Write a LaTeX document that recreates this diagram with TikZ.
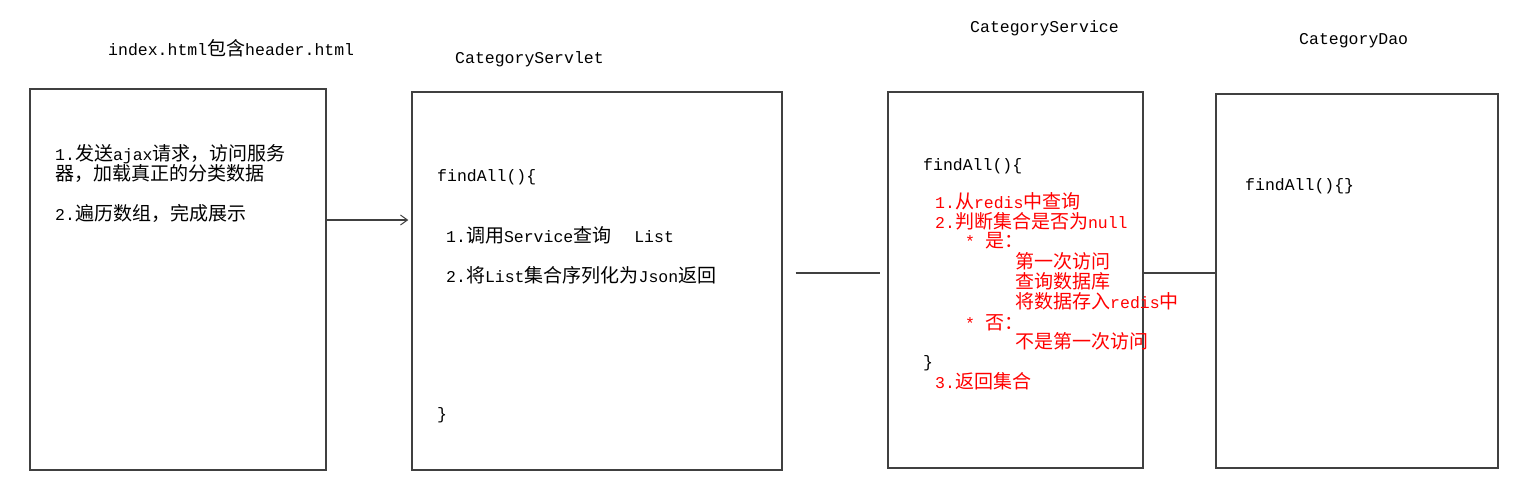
\documentclass[tikz,border=0pt]{standalone}
\usepackage{fontspec}
\setmainfont{Liberation Mono}
\newfontfamily\cjkfam{Noto Sans CJK SC}
\newcommand{\z}[1]{{\cjkfam\fontsize{19}{20}\selectfont #1}}
\usetikzlibrary{arrows.meta}
\definecolor{boxgray}{HTML}{404040}
\tikzset{
  box/.style={draw=boxgray, line width=1.4pt, inner sep=0pt, fill=none},
  txt/.style={anchor=west, inner sep=0pt, text height=13pt, text depth=1pt, font=\fontsize{16.5}{20}\selectfont},
  redtxt/.style={txt, text=red},
  conn/.style={draw=boxgray, line width=1.4pt},
  arr/.style={conn, -{Straight Barb[length=7pt,width=10pt,line width=1pt]}}
}
\begin{document}
\begin{tikzpicture}[x=1pt,y=-1pt]
\useasboundingbox (0,0) rectangle (1533,493);
% boxes
\node[box, minimum width=296pt, minimum height=381pt] (b1) at (178,279.5) {};
\node[box, minimum width=370pt, minimum height=378pt] (b2) at (597,281) {};
\node[box, minimum width=255pt, minimum height=376pt] (b3) at (1015.5,280) {};
\node[box, minimum width=282pt, minimum height=374pt] (b4) at (1357,281) {};
% titles
\node[txt] (h1) at (108,49) {index.html\z{包含}header.html};
\node[txt] (h2) at (455,57) {CategoryServlet};
\node[txt] (h3) at (970,26) {CategoryService};
\node[txt] (h4) at (1299,38) {CategoryDao};
% box 1
\node[txt] (a1) at (55,154) {1.\z{发送}ajax\z{请求，访问服务}};
\node[txt] (a2) at (55,174) {\z{器，加载真正的分类数据}};
\node[txt] (a3) at (55,214) {2.\z{遍历数组，完成展示}};
% box 2
\node[txt] (c1) at (437,175) {findAll()\{};
\node[txt] (c2) at (446,236) {1.\z{调用}Service\z{查询}\hspace{23pt}List};
\node[txt] (c3) at (446,276) {2.\z{将}List\z{集合序列化为}Json\z{返回}};
\node[txt] (c4) at (437,413) {\}};
% box 3
\node[txt] (d0) at (923,164) {findAll()\{};
\node[redtxt] (d1) at (935,202) {1.\z{从}redis\z{中查询}};
\node[redtxt] (d2) at (935,222) {2.\z{判断集合是否为}null};
\node[redtxt] (d3) at (965,241) {*\hspace{10pt}\z{是：}};
\node[redtxt] (d4) at (1015,262) {\z{第一次访问}};
\node[redtxt] (d5) at (1015,282) {\z{查询数据库}};
\node[redtxt] (d6) at (1015,302) {\z{将数据存入}redis\z{中}};
\node[redtxt] (d7) at (965,323) {*\hspace{10pt}\z{否：}};
\node[redtxt] (d8) at (1015,342) {\z{不是第一次访问}};
\node[txt] (d9) at (923,361) {\}};
\node[redtxt] (d10) at (935,382) {3.\z{返回集合}};
% box 4
\node[txt] (e1) at (1245,184) {findAll()\{\}};
% connectors
\coordinate (r1) at (0,220);
\coordinate (r2) at (0,273);
\draw[arr] (b1.east |- r1) -- ([xshift=-3pt]b2.west |- r1);
\draw[conn] ([xshift=13pt]b2.east |- r2) -- ([xshift=-7pt]b3.west |- r2);
\draw[conn] (b3.east |- r2) -- (b4.west |- r2);
\end{tikzpicture}
\end{document}
